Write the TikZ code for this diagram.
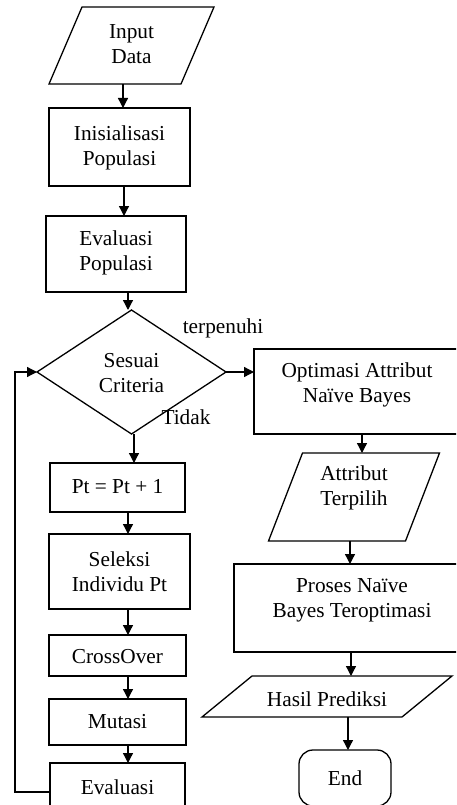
\documentclass[tikz,border=0pt]{standalone}
\usepackage{fontspec}
\setmainfont{Liberation Serif}
\usetikzlibrary{arrows.meta,shapes.geometric}
\tikzset{
  shp/.style={draw, line width=1.3pt, inner sep=0pt, outer sep=0pt},
  ghost/.style={inner sep=0pt, outer sep=0pt},
  lbl/.style={align=center, inner sep=0pt, font=\fontsize{21.3}{25}\selectfont},
  arr/.style={line width=1.3pt, -{Triangle[length=10pt,width=10pt]}},
  ln/.style={line width=1.3pt}
}
\begin{document}
\begin{tikzpicture}[x=1pt,y=-1pt]
\useasboundingbox (0,0) rectangle (456,805);
\clip (0,0) rectangle (456,805);
% ---------- left column ----------
\node[ghost, minimum width=132, minimum height=77] (inp) at (131.5,45.5) {};
\draw[ln] ([xshift=16.5pt]inp.north west) -- ([xshift=16.5pt]inp.north east)
  -- ([xshift=-16.5pt]inp.south east) -- ([xshift=-16.5pt]inp.south west) -- cycle;
\node[lbl] (inpT) at (131.5,44.5) {Input\\Data};

\node[shp, minimum width=141, minimum height=78] (inis) at (119.5,147) {};
\node[lbl] (inisT) at (119.5,148) {Inisialisasi\\Populasi};

\node[shp, minimum width=140, minimum height=76] (evp) at (116,254) {};
\node[lbl] (evpT) at (116,252.5) {Evaluasi\\Populasi};

\node[shp, diamond, minimum width=189, minimum height=124] (dia) at (131.5,372) {};
\node[lbl] (diaT) at (131.5,373) {Sesuai\\Criteria};
\node[lbl] (yes) at (223,328) {terpenuhi};
\node[lbl] (no) at (186,417) {Tidak};

\node[shp, minimum width=135, minimum height=49] (pt) at (117.5,487.5) {};
\node[lbl] (ptT) at (117.5,487) {Pt = Pt + 1};

\node[shp, minimum width=141, minimum height=75] (sel) at (119.5,571.5) {};
\node[lbl] (selT) at (119.5,571.5) {Seleksi\\Individu Pt};

\node[shp, minimum width=137, minimum height=41] (cro) at (117.5,655.5) {};
\node[lbl] (croT) at (117.5,657) {CrossOver};

\node[shp, minimum width=137, minimum height=46] (mut) at (117.5,722) {};
\node[lbl] (mutT) at (117.5,722) {Mutasi};

\node[shp, minimum width=135, minimum height=46] (ev2) at (117.5,786) {};
\node[lbl] (ev2T) at (117.5,787) {Evaluasi};

% ---------- right column ----------
\node[shp, minimum width=206, minimum height=85] (opt) at (357,391.5) {};
\node[lbl] (optT) at (357,385) {Optimasi Attribut\\Naïve Bayes};

\node[ghost, minimum width=137, minimum height=88] (att) at (354,497) {};
\draw[ln] ([xshift=17pt]att.north west) -- ([xshift=17pt]att.north east)
  -- ([xshift=-17pt]att.south east) -- ([xshift=-17pt]att.south west) -- cycle;
\node[lbl] (attT) at (354,488) {Attribut\\Terpilih};

\node[shp, minimum width=236, minimum height=88] (pro) at (352,608) {};
\node[lbl] (proT) at (352,600.5) {Proses Naïve\\Bayes Teroptimasi};

\node[ghost, minimum width=200, minimum height=41] (has) at (327,696.5) {};
\draw[ln] ([xshift=25pt]has.north west) -- ([xshift=25pt]has.north east)
  -- ([xshift=-25pt]has.south east) -- ([xshift=-25pt]has.south west) -- cycle;
\node[lbl] (hasT) at (327,699) {Hasil Prediksi};

\node[shp, rounded corners=14pt, minimum width=92, minimum height=56] (end) at (345,778) {};
\node[lbl] (endT) at (345,778) {End};

% ---------- connector columns ----------
\coordinate (c1) at (123,0);
\coordinate (c2) at (124,0);
\coordinate (c3) at (128,0);
\coordinate (c4) at (134,0);
\coordinate (r1) at (362,0);
\coordinate (r2) at (350,0);
\coordinate (r3) at (351,0);
\coordinate (r4) at (348,0);
\coordinate (lp) at (15,792);

\draw[arr] (inp.south -| c1) -- (inis.north -| c1);
\draw[arr] (inis.south -| c2) -- (evp.north -| c2);
\draw[arr] (evp.south -| c3) -- (dia.north -| c3);
\draw[arr] (dia.south -| c4) -- (pt.north -| c4);
\draw[arr] (pt.south -| c3) -- (sel.north -| c3);
\draw[arr] (sel.south -| c3) -- (cro.north -| c3);
\draw[arr] (cro.south -| c3) -- (mut.north -| c3);
\draw[arr] (mut.south -| c3) -- (ev2.north -| c3);
\draw[arr] (ev2.west |- lp) -- (lp) -- (lp |- dia.west) -- (dia.west);
\draw[arr] (dia.east) -- (dia.east -| opt.west);
\draw[arr] (opt.south -| r1) -- (att.north -| r1);
\draw[arr] (att.south -| r2) -- (pro.north -| r2);
\draw[arr] (pro.south -| r3) -- (has.north -| r3);
\draw[arr] (has.south -| r4) -- (end.north -| r4);
\end{tikzpicture}
\end{document}
